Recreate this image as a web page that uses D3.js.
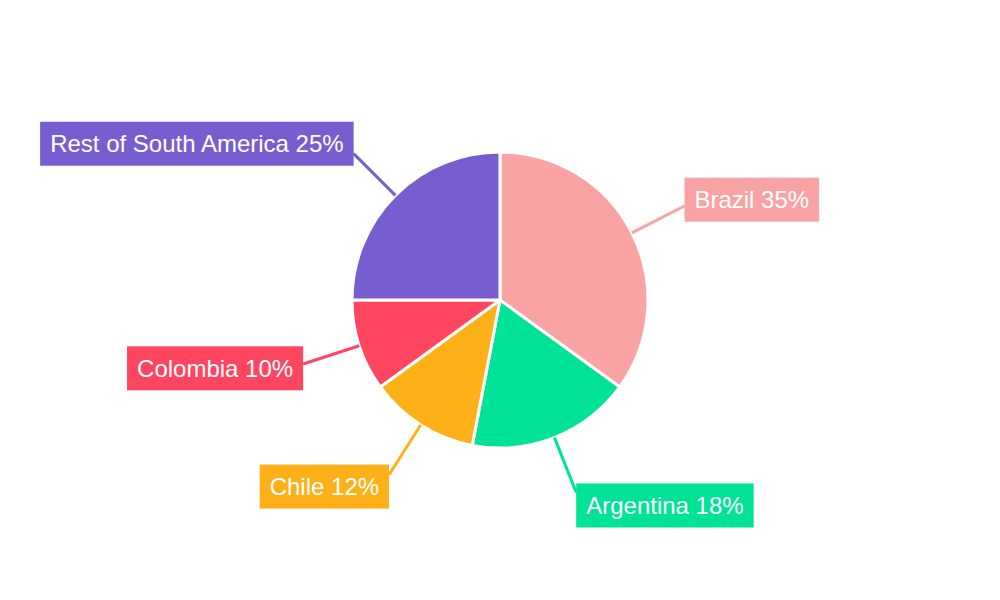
<!DOCTYPE html>
<html>
<head>
<meta charset="utf-8">
<script src="https://cdn.jsdelivr.net/npm/d3@7"></script>
<style>
  body { margin: 0; background: #fff; }
  svg { display: block; font-family: "Liberation Sans", Arial, sans-serif; }
</style>
</head>
<body>
<svg id="chart" width="1000" height="600"></svg>
<script>
// slice data (clockwise from 12 o'clock)
const regions = ["Brazil", "Argentina", "Chile", "Colombia", "Rest of South America"];
const shares  = [35, 18, 12, 10, 25];
const colors  = ["#F9A3A4", "#00E396", "#FEB019", "#FF4560", "#775DD0"];

const W = 1000, H = 600;
const cx = 500, cy = 300, R = 148;
const lineEnd = 207;      // where the leader line stops
const padX = 10, boxH = 44, fontSize = 24;

const svg = d3.select("#chart");
const g = svg.append("g").attr("transform", `translate(${cx},${cy})`);

const data = regions.map((r, i) => ({ region: r, value: shares[i], color: colors[i] }));

const pie = d3.pie().value(d => d.value).sort(null);
const arcs = pie(data);
const arc = d3.arc().innerRadius(0).outerRadius(R);

g.append("g").selectAll("path")
    .data(arcs)
    .join("path")
    .attr("d", arc)
    .attr("fill", d => d.data.color)
    .attr("stroke", "#fff")
    .attr("stroke-width", 3)
    .attr("stroke-linejoin", "round");

// leader lines + boxed labels
const polar = (a, r) => [Math.sin(a) * r, -Math.cos(a) * r];

const labelsG = g.append("g");
arcs.forEach(d => {
    const mid = (d.startAngle + d.endAngle) / 2;
    const [x0, y0] = polar(mid, R);
    const [x1, y1] = polar(mid, lineEnd);
    labelsG.append("line")
        .attr("x1", x0).attr("y1", y0)
        .attr("x2", x1).attr("y2", y1)
        .attr("stroke", d.data.color)
        .attr("stroke-width", 3);

    const lg = labelsG.append("g");
    const txt = lg.append("text")
        .attr("font-size", fontSize)
        .attr("fill", "#fff")
        .attr("dy", "0.35em")
        .text(`${d.data.region} ${d.data.value}%`);
    const tw = txt.node().getComputedTextLength();
    const bw = tw + padX * 2;
    const right = Math.sin(mid) >= 0;
    const bx = right ? x1 : x1 - bw;
    const byc = y1 - Math.cos(mid) * 14;   // nudge box away from the pie vertically
    lg.insert("rect", "text")
        .attr("x", bx).attr("y", byc - boxH / 2)
        .attr("width", bw).attr("height", boxH)
        .attr("fill", d.data.color);
    txt.attr("x", bx + padX).attr("y", byc);
});
</script>
</body>
</html>
